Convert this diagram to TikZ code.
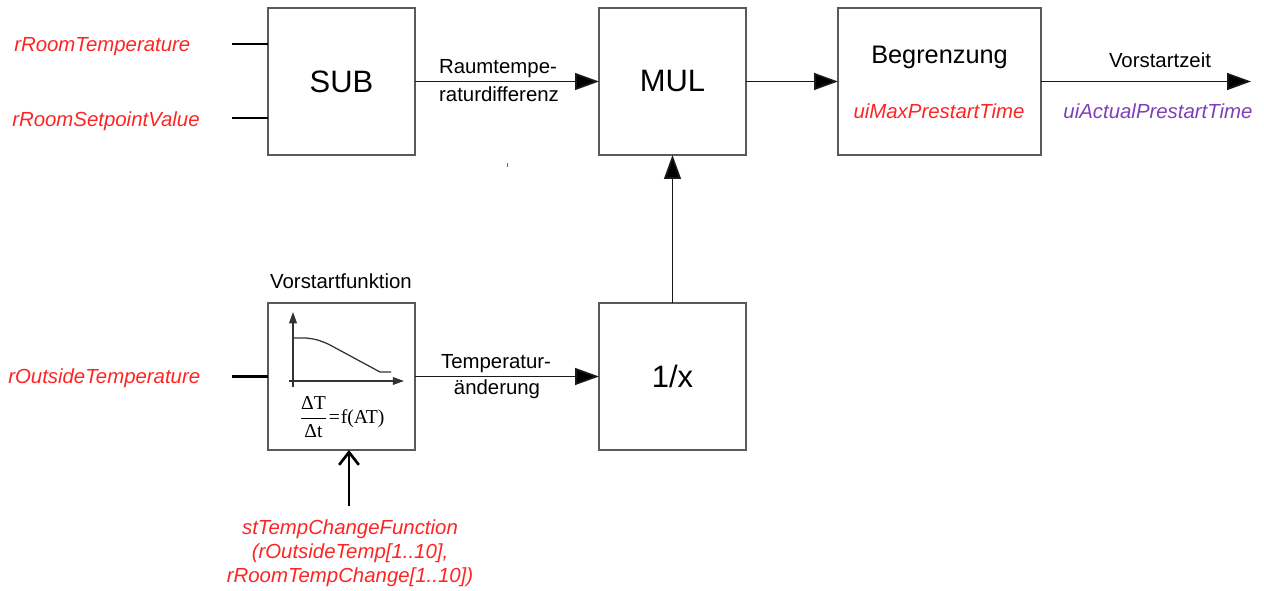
\documentclass[tikz,border=0pt]{standalone}
\usepackage{amsmath}
\usepackage{fontspec}
\setmainfont{Liberation Sans}
\newfontfamily\formelfont{Liberation Serif}
\usetikzlibrary{arrows.meta, calc, positioning}
\definecolor{varred}{HTML}{FF2424}
\definecolor{outpurple}{HTML}{7E40B8}
\definecolor{boxgray}{HTML}{5A5A5A}
\tikzset{
  block/.style={draw=boxgray, line width=1.3pt, minimum width=3.675cm, minimum height=3.675cm,
    inner sep=0pt, outer sep=0pt, font=\fontsize{22}{26}\selectfont},
  varlabel/.style={text=varred, font=\fontsize{14.5}{17.5}\selectfont\itshape, inner sep=0pt},
  sigtext/.style={font=\fontsize{14.5}{17.5}\selectfont, inner sep=0pt},
  flow/.style={draw=black!90, line width=1.2pt, -{Triangle[length=17pt,width=12pt,fill=black]}},
  stub/.style={draw=black, line width=1.6pt},
  axis/.style={draw=black!80, line width=0.9pt, -{Triangle[length=8pt,width=5.5pt]}}
}
\begin{document}
\begin{tikzpicture}[x=0.025cm, y=-0.025cm]
    \useasboundingbox (0,0) rectangle (1264,591);

    % Bloecke
    \node[block] (sub) at (341.5,81.5) {SUB};
    \node[block] (mul) at (672.5,81.5) {MUL};
    \node[block, minimum width=5.075cm] (lim) at (939.5,81.5) {};
    \node[block] (vf) at (341.5,376.5) {};
    \node[block] (inv) at (672.5,376.5) {1/x};

    % Eingaenge
    \node[varlabel, anchor=west] (rtLabel) at (14,47) {rRoomTemperature};
    \node[varlabel, anchor=west] (rsLabel) at (12,121) {rRoomSetpointValue};
    \node[varlabel, anchor=west] (otLabel) at (8,378) {rOutsideTemperature};
    \coordinate (rtIn) at (232,44);
    \coordinate (rsIn) at (232,118);
    \coordinate (otIn) at (232,376.5);
    \draw[stub] (rtIn) -- (rtIn -| sub.west);
    \draw[stub] (rsIn) -- (rsIn -| sub.west);
    \draw[stub] (otIn) -- (otIn -| vf.west);

    % Verbindungen
    \draw[flow] (sub) -- (mul);
    \draw[flow] (mul) -- (lim);
    \draw[flow] (vf) -- (inv);
    \draw[flow] (inv) -- (mul);
    \coordinate (out) at (1251,81.5);
    \draw[flow] (lim) -- (out);

    % Beschriftungen
    \node[sigtext] (rdA) at (498,69) {Raumtempe-};
    \node[sigtext] (rdB) at (499,94) {raturdifferenz};
    \node[sigtext] (taA) at (496,364) {Temperatur-};
    \node[sigtext] (taB) at (497,389) {änderung};
    \node[sigtext, font=\fontsize{18}{22}\selectfont] (limText) at (939.5,57) {Begrenzung};
    \node[varlabel] (maxText) at (939,111) {uiMaxPrestartTime};
    \node[sigtext] (vzText) at (1160,60) {Vorstartzeit};
    \node[varlabel, text=outpurple] (actText) at (1158,111) {uiActualPrestartTime};
    \node[sigtext] (vfText) at (341,281) {Vorstartfunktion};

    % Kennlinie
    \draw[axis] (293,387) -- (293,312);
    \draw[axis] (289,381) -- (404,381);
    \draw[black!80, line width=0.9pt] (293,338) -- (306,338)
        .. controls (316,339) and (322,341) .. (330,345) -- (380,372) -- (391,372);
    \node[inner sep=0pt, font=\formelfont\fontsize{14}{16}\selectfont] (formel) at (342,417)
        {$\dfrac{\text{ΔT}}{\text{Δt}}$\kern1pt=\kern0.5pt f(AT)};

    % Parameter
    \node[varlabel, align=center, font=\fontsize{14.5}{17}\selectfont\itshape] (param) at (350,553)
        {stTempChangeFunction\\(rOutsideTemp[1..10],\\rRoomTempChange[1..10])};
    \coordinate (paramIn) at (349,506);
    \draw[line width=1.9pt, -{Straight Barb[length=9pt,width=14pt,line width=1.9pt]}] (paramIn) -- (paramIn |- vf.south);

    % Punkt
    \draw[black!60, line width=0.7pt] (507,163) -- (507,167);
\end{tikzpicture}
\end{document}
